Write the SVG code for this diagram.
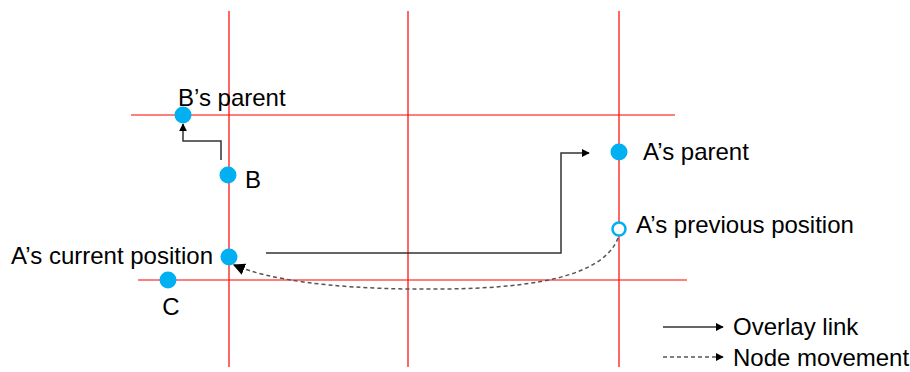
<svg xmlns="http://www.w3.org/2000/svg" width="910" height="372" viewBox="0 0 910 372">
  <style>
    .grid { stroke: #ff0000; stroke-width: 1.2; fill: none; }
    .node { fill: #00b0f0; }
    .open { fill: #ffffff; stroke: #00b0f0; stroke-width: 2.5; }
    .link { stroke: #333333; stroke-width: 1.5; fill: none; }
    .move { stroke: #555555; stroke-width: 1.5; fill: none; stroke-dasharray: 4 3; }
    .lbl { font-family: "Liberation Sans", Arial, sans-serif; font-size: 24px; fill: #000000; }
  </style>
  <defs>
    <marker id="arrow" viewBox="0 0 10 10" refX="9" refY="5" markerWidth="8" markerHeight="8" orient="auto" markerUnits="userSpaceOnUse">
      <path d="M0,0 L10,5 L0,10 z" fill="#000000"/>
    </marker>
    <marker id="arrowBig" viewBox="0 0 10 10" refX="9" refY="5" markerWidth="12" markerHeight="12" orient="auto" markerUnits="userSpaceOnUse">
      <path d="M0,0 L10,5 L0,10 z" fill="#000000"/>
    </marker>
  </defs>

  <!-- grid lines -->
  <g id="grid">
    <line class="grid" x1="229" y1="11" x2="229" y2="367"/>
    <line class="grid" x1="408" y1="11" x2="408" y2="367"/>
    <line class="grid" x1="619" y1="11" x2="619" y2="367"/>
    <line class="grid" x1="131" y1="115" x2="675" y2="115"/>
    <line class="grid" x1="138" y1="280" x2="687" y2="280"/>
  </g>

  <!-- connectors -->
  <g id="connectors">
    <polyline class="link" points="221,160 221,141 183,141 183,124" marker-end="url(#arrow)"/>
    <polyline class="link" points="266,253 561,253 561,153 589,153" marker-end="url(#arrow)"/>
    <path class="move" d="M618,238 C600,285 500,290 410,289 C330,288 270,280 234,265" marker-end="url(#arrowBig)"/>
  </g>

  <g id="node-b-parent">
    <circle class="node" cx="183" cy="115" r="8.5"/>
    <text class="lbl" x="178" y="106">B’s parent</text>
  </g>
  <g id="node-b">
    <circle class="node" cx="228" cy="175" r="8.5"/>
    <text class="lbl" x="245" y="188">B</text>
  </g>
  <g id="node-a-current">
    <circle class="node" cx="229" cy="257" r="8.5"/>
    <text class="lbl" x="213" y="264" text-anchor="end">A’s current position</text>
  </g>
  <g id="node-c">
    <circle class="node" cx="168" cy="280" r="8.5"/>
    <text class="lbl" x="171" y="315" text-anchor="middle">C</text>
  </g>
  <g id="node-a-parent">
    <circle class="node" cx="619" cy="152" r="8.5"/>
    <text class="lbl" x="643" y="160">A’s parent</text>
  </g>
  <g id="node-a-previous">
    <circle class="open" cx="619" cy="229" r="6.5"/>
    <text class="lbl" x="636" y="233">A’s previous position</text>
  </g>

  <!-- legend -->
  <g id="legend">
    <line class="link" x1="663" y1="327" x2="723" y2="327" stroke="#000000" marker-end="url(#arrow)"/>
    <text class="lbl" x="733" y="335">Overlay link</text>
    <line class="move" x1="663" y1="357" x2="723" y2="357" stroke="#000000" stroke-dasharray="3 2" marker-end="url(#arrow)"/>
    <text class="lbl" x="733" y="366">Node movement</text>
  </g>
</svg>
